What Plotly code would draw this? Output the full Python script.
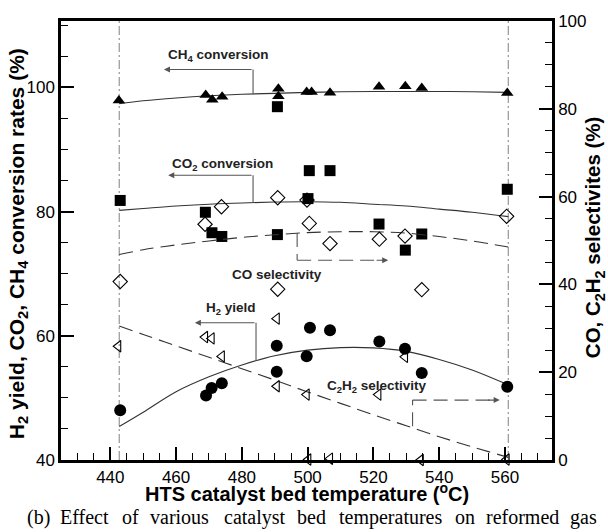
import plotly.graph_objects as go

# ---------------- data ----------------
temp_h2 = [443.0, 469.1, 470.8, 473.9, 490.6, 490.6, 500.7, 499.7, 506.8, 521.8, 529.6, 534.7, 560.7]
h2_yield = [48.0, 50.4, 51.6, 52.35, 58.4, 54.2, 61.3, 56.7, 60.9, 59.1, 57.9, 54.0, 51.8]

temp_co2 = [443.0, 468.9, 470.9, 473.9, 490.8, 490.8, 500.1, 500.5, 506.8, 521.7, 529.7, 534.7, 560.7]
co2_conv = [81.8, 79.9, 76.6, 76.0, 76.3, 96.9, 82.1, 86.6, 86.6, 78.0, 73.8, 76.4, 83.6]

temp_ch4 = [442.6, 469.0, 471.0, 474.0, 491.1, 491.1, 499.7, 501.2, 506.8, 521.7, 529.7, 534.7, 560.7]
ch4_conv = [97.9, 98.8, 98.0, 98.5, 99.8, 98.6, 99.26, 99.26, 99.15, 100.1, 100.2, 99.9, 99.1]

temp_co = [443.0, 468.8, 473.8, 490.9, 490.9, 499.8, 500.5, 506.8, 521.8, 529.6, 534.7, 560.5]
co_sel = [40.65, 53.7, 57.7, 59.75, 38.9, 59.2, 53.9, 49.3, 50.3, 51.0, 38.8, 55.5]

temp_c2h2 = [442.4, 468.8, 470.8, 473.9, 490.6, 490.6, 499.7, 500.2, 506.8, 521.5, 529.6, 534.4, 560.5]
c2h2_sel = [25.9, 28.0, 27.7, 23.6, 32.2, 16.8, 14.9, 0.1, 0.3, 14.9, 23.5, 0.0, 0.1]

# trend curves
fit_temp = [442.7, 450, 460, 470, 480, 490, 500, 510, 520, 530, 540, 550, 561]
ch4_fit = [97.4, 97.85, 98.3, 98.65, 98.9, 99.05, 99.2, 99.3, 99.35, 99.35, 99.35, 99.3, 99.2]
co2_fit = [80.2, 80.5, 80.9, 81.2, 81.4, 81.55, 81.6, 81.5, 81.2, 80.9, 80.4, 79.9, 79.2]
h2_fit = [45.4, 47.7, 51.0, 53.4, 55.3, 56.8, 57.7, 58.1, 58.05, 57.5, 56.2, 54.5, 52.1]
co_fit = [46.8, 47.9, 49.0, 49.9, 50.7, 51.3, 51.8, 52.0, 52.0, 51.7, 50.9, 49.9, 48.5]
c2h2_fit = [30.5, 28.6, 26.0, 23.4, 20.8, 18.2, 15.5, 12.9, 10.3, 7.8, 5.3, 3.0, 0.6]

bound_temps = [442.7, 561.0]

x_ticks = [440, 460, 480, 500, 520, 540, 560]
yl_ticks = [40, 60, 80, 100]
yr_ticks = [0, 20, 40, 60, 80, 100]

caption_words = ["(b)", "Effect", "of", "various", "catalyst", "bed",
                 "temperatures", "on", "reformed", "gas"]

# ---------------- figure ----------------
SANS = "Liberation Sans, Arial, sans-serif"
SERIF = "Liberation Serif, Times New Roman, serif"
LINE = "#333333"
ARW = "#555555"
DASH = "14px,7px"

W, H = 608, 532
L, R, T, B = 61, 551.7, 12, 460.5

def px_x(px):
    return (px - L) / (R - L)

def px_y(py):
    return (B - py) / (B - T)

fig = go.Figure()

def curve(x, y, axis, dash):
    fig.add_trace(go.Scatter(x=x, y=y, yaxis=axis, mode="lines", line_shape="spline",
                             line=dict(color=LINE, width=1.1, dash=dash),
                             hoverinfo="skip", showlegend=False))

curve(fit_temp, ch4_fit, "y", "solid")
curve(fit_temp, co2_fit, "y", "solid")
curve(fit_temp, h2_fit, "y", "solid")
curve(fit_temp, co_fit, "y2", DASH)
curve(fit_temp, c2h2_fit, "y2", DASH)

def pts(x, y, axis, symbol, size, lw=0):
    fig.add_trace(go.Scatter(
        x=x, y=y, yaxis=axis, mode="markers", cliponaxis=False, showlegend=False,
        marker=dict(symbol=symbol, size=size, color="black",
                    line=dict(color="black", width=lw))))

pts(temp_co, co_sel, "y2", "diamond-open", 11, 1.1)
pts(temp_c2h2, c2h2_sel, "y2", "triangle-left-open", 10, 1.1)
pts(temp_ch4, ch4_conv, "y", "triangle-up", 11)
pts(temp_co2, co2_conv, "y", "square", 11)
pts(temp_h2, h2_yield, "y", "circle", 12)

shapes = []
for t in bound_temps:
    shapes.append(dict(type="line", xref="x", yref="paper", x0=t, x1=t, y0=0, y1=1,
                       line=dict(color="#808080", width=1, dash="9px,3px,2px,3px"),
                       layer="below"))

annotations = []

def solid_arrow(xv, y_curve, y_top, x_head, yref):
    shapes.append(dict(type="line", xref="x", yref=yref, x0=xv, x1=xv, y0=y_curve, y1=y_top,
                       line=dict(color=ARW, width=1.1)))
    annotations.append(dict(x=x_head, y=y_top, xref="x", yref=yref, ax=xv, ay=y_top,
                            axref="x", ayref=yref, text="", showarrow=True,
                            arrowhead=2, arrowsize=1.1, arrowwidth=1.1, arrowcolor=ARW))

def dashed_arrow(xv, y_curve, y_h, x_head, yref):
    shapes.append(dict(type="line", xref="x", yref=yref, x0=xv, x1=xv, y0=y_curve, y1=y_h,
                       line=dict(color=ARW, width=1.1, dash=DASH)))
    shapes.append(dict(type="line", xref="x", yref=yref, x0=xv, x1=x_head - 2, y0=y_h, y1=y_h,
                       line=dict(color=ARW, width=1.1, dash=DASH)))
    annotations.append(dict(x=x_head, y=y_h, xref="x", yref=yref, ax=x_head - 4, ay=y_h,
                            axref="x", ayref=yref, text="", showarrow=True,
                            arrowhead=2, arrowsize=1.1, arrowwidth=1.1, arrowcolor=ARW))

solid_arrow(483.4, 99.0, 102.9, 456.3, "y")
solid_arrow(483.4, 81.45, 85.85, 457.6, "y")
solid_arrow(484.3, 55.95, 62.1, 465.7, "y")
dashed_arrow(496.8, 51.7, 45.5, 524.5, "y2")
dashed_arrow(531.9, 7.7, 13.65, 558.4, "y2")

def label(text, x, y):
    annotations.append(dict(x=x, y=y, xref="x", yref="y", text="<b>%s</b>" % text,
                            xanchor="center", yanchor="middle",
                            showarrow=False, font=dict(family=SANS, size=13.5, color="#222")))

label("CH<sub>4</sub> conversion", 472.9, 105.1)
label("CO<sub>2</sub> conversion", 474.1, 87.6)
label("CO selectivity", 490.7, 69.8)
label("H<sub>2</sub> yield", 476.8, 64.4)
label("C<sub>2</sub>H<sub>2</sub> selectivity", 521.2, 51.8)

# axis titles as annotations for exact placement
annotations.append(dict(x=px_x(307), y=px_y(493.5), xref="paper", yref="paper",
                        xanchor="center", yanchor="middle",
                        text="<b>HTS catalyst bed temperature (<sup>o</sup>C)</b>",
                        showarrow=False, font=dict(family=SANS, size=20, color="black")))
annotations.append(dict(x=px_x(17.5), y=px_y(239.5), xref="paper", yref="paper", textangle=-90,
                        xanchor="center", yanchor="middle",
                        text="<b>H<sub>2</sub> yield, CO<sub>2</sub>, CH<sub>4</sub> conversion rates (%)</b>",
                        showarrow=False, font=dict(family=SANS, size=21, color="black")))
annotations.append(dict(x=px_x(594), y=px_y(232.5), xref="paper", yref="paper", textangle=-90,
                        xanchor="center", yanchor="middle",
                        text="<b>CO, C<sub>2</sub>H<sub>2</sub> selectivites (%)</b>",
                        showarrow=False, font=dict(family=SANS, size=20.5, color="black")))

# caption, justified word by word
word_px = [25, 58.3, 120, 148.3, 221.7, 295, 337.3, 452.3, 484, 567.3]
for w, px in zip(caption_words, word_px):
    annotations.append(dict(x=px_x(px), y=px_y(519), xref="paper", yref="paper",
                            xanchor="left", yanchor="middle", text=w, showarrow=False,
                            font=dict(family=SERIF, size=20, color="black")))

axis_common = dict(showline=True, linecolor="black", linewidth=2.5, ticks="inside",
                   tickcolor="black", tickwidth=2.2, ticklen=13, showgrid=False, zeroline=False,
                   tickfont=dict(family=SANS, size=17, color="black"))
minor_common = dict(ticks="inside", dtick=5, tick0=0, ticklen=7, tickwidth=1.2, tickcolor="black")

fig.update_layout(
    width=W, height=H,
    margin=dict(l=L, r=W - R, t=T, b=H - B),
    paper_bgcolor="white", plot_bgcolor="white",
    font=dict(family=SANS, color="black"),
    xaxis=dict(range=[425, 574.3], tickvals=x_ticks, mirror=True, minor=minor_common, **axis_common),
    yaxis=dict(range=[40, 110.7], tickvals=yl_ticks, minor=minor_common, **axis_common),
    yaxis2=dict(range=[0, 100], tickvals=yr_ticks, overlaying="y", side="right", anchor="x",
                minor=minor_common, **axis_common),
    shapes=shapes,
    annotations=annotations,
)

fig.write_html("out.html")
